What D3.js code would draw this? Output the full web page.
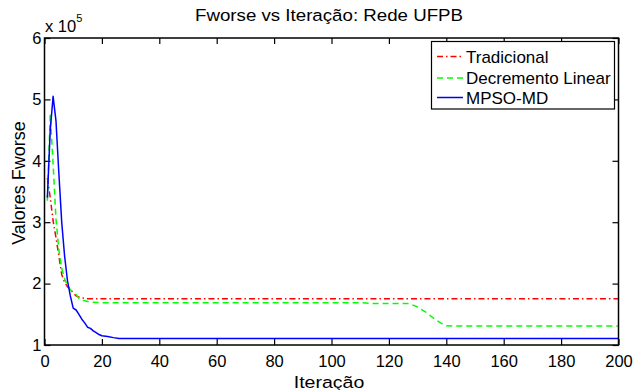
<!DOCTYPE html>
<html><head><meta charset="utf-8">
<script src="https://cdn.jsdelivr.net/npm/d3@7"></script>
<style>
body{margin:0;background:#fff}
svg{display:block}
text{font-family:"Liberation Sans",Arial,Helvetica,sans-serif;fill:#000}
</style>
</head><body>
<svg id="chart" width="634" height="390"></svg>
<script>
// ---- data (values in units of 10^5) ----
const chartTitle = "Fworse vs Iteração: Rede UFPB";
const xAxisLabel = "Iteração";
const yAxisLabel = "Valores Fworse";
const xTickValues = [0,20,40,60,80,100,120,140,160,180,200];
const yTickValues = [1,2,3,4,5,6];
const seriesNames = ["Tradicional","Decremento Linear","MPSO-MD"];

const tradIter = [1,2,3,4,5,6,7,8,9,10,11,12,13,14,15,200];
const tradVal  = [3.72,3.4,3.02,2.75,2.45,2.15,2.02,1.95,1.9,1.85,1.8,1.78,1.77,1.76,1.755,1.755];

const linIter = [1,2,3,4,5,6,7,8,9,10,11,12,13,14,16,20,110,114,127,130,133,136,138,140,142,200];
const linVal  = [3.35,4.75,3.95,3.05,2.55,2.25,2.08,1.97,1.9,1.86,1.82,1.76,1.73,1.72,1.70,1.69,1.69,1.675,1.675,1.62,1.53,1.42,1.36,1.315,1.31,1.31];

const mpsoIter = [1,2,3,4,5,6,7,8,9,10,11,12,13,14,15,16,17,18,19,20,22,24,26,200];
const mpsoVal  = [3.4,4.5,5.05,4.65,3.8,3.0,2.45,2.05,1.8,1.6,1.57,1.5,1.42,1.36,1.29,1.27,1.23,1.2,1.17,1.15,1.14,1.12,1.105,1.105];

// ---- layout ----
const svg = d3.select("#chart");
const L = 44.5, R = 618.5, T = 38, B = 345;
const x = d3.scaleLinear().domain([0,200]).range([L,R]);
const y = d3.scaleLinear().domain([1,6]).range([B,T]);
const FS = 16;

const series = [
  {name: seriesNames[0], iter: tradIter, val: tradVal, color: "#ff0000", dash: "6,3,1.5,3"},
  {name: seriesNames[1], iter: linIter, val: linVal, color: "#00ff00", dash: "6,4"},
  {name: seriesNames[2], iter: mpsoIter, val: mpsoVal, color: "#0000ff", dash: null}
];

// axes
const axB = d3.axisBottom(x).tickValues(xTickValues).tickSizeInner(-6).tickSizeOuter(0).tickPadding(10).tickFormat(d3.format("d"));
const axT = d3.axisTop(x).tickValues(xTickValues).tickSizeInner(-6).tickSizeOuter(0).tickFormat("");
const axLft = d3.axisLeft(y).tickValues(yTickValues).tickSizeInner(-6).tickSizeOuter(0).tickPadding(3).tickFormat(d3.format("d"));
const axRgt = d3.axisRight(y).tickValues(yTickValues).tickSizeInner(-6).tickSizeOuter(0).tickFormat("");

function style(g){
  g.select(".domain").remove();
  g.selectAll(".tick line").attr("stroke","#000").attr("stroke-width",1.2);
  g.selectAll(".tick text").attr("font-size",FS+0.5).attr("fill","#000")
   .style("font-family",'"Liberation Sans",Arial,sans-serif');
}
svg.append("g").attr("transform",`translate(0,${B})`).call(axB).call(style);
svg.append("g").attr("transform",`translate(0,${T})`).call(axT).call(style);
svg.append("g").attr("transform",`translate(${L},0)`).call(axLft).call(style);
svg.append("g").attr("transform",`translate(${R},0)`).call(axRgt).call(style);

// lines
const line = d3.line().x(d=>x(d[0])).y(d=>y(d[1]));
series.forEach(s=>{
  const pts = s.iter.map((it,i)=>[it,s.val[i]]);
  svg.append("path").datum(pts).attr("d",line)
    .attr("fill","none").attr("stroke",s.color).attr("stroke-width",1.5)
    .attr("stroke-dasharray",s.dash).attr("stroke-linejoin","round");
});

// frame
svg.append("rect").attr("x",L).attr("y",T).attr("width",R-L).attr("height",B-T)
  .attr("fill","none").attr("stroke","#000").attr("stroke-width",1.5);

// exponent label
const ex = svg.append("text").attr("x",45).attr("y",32).attr("font-size",FS+0.5);
ex.append("tspan").text("x 10");
ex.append("tspan").attr("font-size",11).attr("dy",-10).text("5");

// title and labels (reference glyphs are slightly wider than Liberation Sans)
svg.append("text").attr("transform","translate(329,21) scale(1.1,1)").attr("text-anchor","middle")
  .attr("font-size",17).text(chartTitle);
svg.append("text").attr("transform","translate(329,387.5) scale(1.15,1)").attr("text-anchor","middle")
  .attr("font-size",17).text(xAxisLabel);
svg.append("text").attr("transform",`translate(25,183) rotate(-90)`)
  .attr("text-anchor","middle").attr("font-size",18).text(yAxisLabel);

// legend
const lg = svg.append("g");
lg.append("rect").attr("x",431.5).attr("y",41.5).attr("width",183).attr("height",67.5)
  .attr("fill","#fff").attr("stroke","#000").attr("stroke-width",1.2);
const rowY = [56.5,78,97.5];
series.forEach((s,i)=>{
  lg.append("line").attr("x1",437).attr("x2",463).attr("y1",rowY[i]).attr("y2",rowY[i])
    .attr("stroke",s.color).attr("stroke-width",1.5).attr("stroke-dasharray",s.dash);
  lg.append("text").attr("x",466).attr("y",rowY[i]+6).attr("font-size",17).text(s.name);
});
</script>
</body></html>
